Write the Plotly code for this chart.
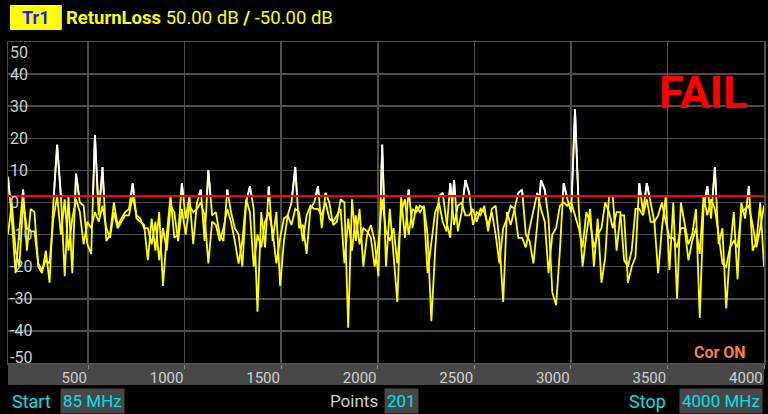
import numpy as np
import plotly.graph_objects as go

# ---- data ----
start_mhz = 85
stop_mhz = 4000
points = 201
limit_db = 2.0
y_tick_vals = [50, 40, 30, 20, 10, 0, -10, -20, -30, -40, -50]
y_tick_text = ["50", "40", "30", "20", "10", "0", "-10", "-20", "-30", "-40", "-50"]
x_tick_vals = [500, 1000, 1500, 2000, 2500, 3000, 3500, 4000]
x_tick_text = ["500", "1000", "1500", "2000", "2500", "3000", "3500", "4000"]

trace_a = [
    8, -5, -22, -8, 4, -15, -2, -3, -20, -22,
    -15, -25, 0, 18, 2, -23, 2, -22, 9, 0,
    -1, -13, -16, 21, -4, 11, -12, -10, 0, -7,
    -5, -3, -2, 6, -5, -6, -7, -18, -5, -15,
    -3, -26, -10, 2, -11, -10, 6, -5, 2, -13,
    0, 4, -12, 10, -4, -3, -10, -12, 4, -3,
    -8, -10, -20, 0, 5, -2, -34, -3, -14, 5,
    -12, -3, -26, -12, -4, 0, 11, -8, -7, -16,
    -2, 0, 5, -8, 3, 0, -7, -6, 1, 0,
    -39, 1, -12, -2, -20, -10, -7, -12, -23, 18,
    -20, -2, -18, -31, 2, -11, 4, -8, -1, -3,
    -1, -10, -37, -15, 2, 3, -6, -11, 7, -9,
    -3, 7, 3, -7, -3, -4, -1, -9, -2, -1,
    -12, -31, -3, -7, -2, 3, 4, -10, -12, -19,
    -7, 7, 4, -5, -28, -32, -15, 6, 1, -3,
    29, -2, -20, -10, -2, -20, -5, -25, -17, 2,
    2, -15, -4, -4, -25, -20, -17, 6, -3, 6,
    0, -6, -22, -8, 2, -21, 0, -30, 0, -7,
    -13, -10, -2, -36, -2, 5, -5, 11, -13, -8,
    -33, -15, -3, -24, 0, -5, 5, -15, -12, 0,
    -20,
]

trace_b = [
    -10, 0, -15, -20, 0, -8, -9, -9, -19, -21,
    -18, -19, -5, 2, -10, 1, -15, -5, 1, -3,
    -13, -6, -8, -3, -6, -1, -8, -11, -3, -8,
    -6, -4, -4, 2, -4, -5, -8, -8, -13, -6,
    -18, -8, -15, -1, -3, -12, -2, -10, -1, -3,
    -2, 0, -4, -19, -6, -7, -12, -8, -2, -6,
    -12, -19, -12, 1, -3, -20, -10, -14, -6, -3,
    -9, -19, -11, -5, -4, -7, -2, -3, -12, -4,
    -1, -2, -2, -4, 0, -5, -6, -4, -2, -19,
    -5, -15, -4, -13, -8, -9, -11, -20, -13, 1,
    -9, -12, -8, -19, -3, 1, -10, -2, -3, -1,
    -2, -22, -12, -3, 0, -6, -9, 6, -7, -1,
    0, -4, -4, -2, -6, -2, -3, -7, -3, -10,
    -19, -8, -5, -1, -2, -11, -11, -14, -8, -2,
    3, -2, -6, -22, -10, -8, -1, 0, -1, 0,
    -4, -8, -14, -3, -6, -14, -10, -8, 0, -3,
    -8, -3, -3, -18, -20, -15, -2, -2, -4, 1,
    -6, -6, -4, 0, -6, -11, -11, -14, -8, -8,
    -18, -12, -8, -16, 2, -4, 1, -2, -10, -19,
    -20, -14, -12, -14, -3, -2, -1, -7, -14, -8,
    -1,
]

freq = np.linspace(start_mhz, stop_mhz, points)


def above_limit(x, y, lim):
    """Return the parts of a polyline lying above lim (crossings interpolated)."""
    xs, ys = [], []
    y = np.asarray(y, dtype=float)
    for i in range(len(x) - 1):
        x0, x1, y0, y1 = x[i], x[i + 1], y[i], y[i + 1]
        a0, a1 = y0 > lim, y1 > lim
        if a0 and a1:
            xs += [x0, x1]; ys += [y0, y1]
        elif a0 or a1:
            xc = x0 + (lim - y0) * (x1 - x0) / (y1 - y0)
            if a0:
                xs += [x0, xc]; ys += [y0, lim]
            else:
                xs += [xc, x1]; ys += [lim, y1]
        xs.append(None); ys.append(None)
    return xs, ys


fig = go.Figure()
for tr in (trace_b, trace_a):
    fig.add_trace(go.Scatter(x=freq, y=tr, mode="lines",
                             line=dict(color="#ffff00", width=1.8),
                             hoverinfo="skip", showlegend=False))
for tr in (trace_b, trace_a):
    wx, wy = above_limit(freq, tr, limit_db)
    fig.add_trace(go.Scatter(x=wx, y=wy, mode="lines",
                             line=dict(color="#ffffff", width=1.8),
                             hoverinfo="skip", showlegend=False))
fig.add_trace(go.Scatter(x=[start_mhz, stop_mhz], y=[limit_db, limit_db], mode="lines",
                         line=dict(color="#ff0000", width=2),
                         hoverinfo="skip", showlegend=False))

W, H = 768, 414
L, R, T, B = 8, 2, 42, 51
pw, ph = W - L - R, H - T - B


def px(xp):
    return (xp - L) / pw


def py(yp):
    return (H - B - yp) / ph


grid = "#4e4e4e"
fig.update_xaxes(range=[start_mhz, stop_mhz], tickvals=x_tick_vals, ticktext=x_tick_text,
                 showgrid=True, gridcolor=grid, gridwidth=1.5,
                 ticks="outside", ticklen=4, tickcolor="#8a8a8a", tickwidth=1,
                 ticklabelposition="outside left",
                 tickfont=dict(family="Roboto", size=15, color="#cfcfcf"),
                 showline=True, linecolor=grid, linewidth=1.5, mirror=True,
                 zeroline=False, fixedrange=True)
fig.update_yaxes(range=[-50, 50], tickvals=y_tick_vals[1:-1],
                 showticklabels=False, showgrid=True, gridcolor=grid, gridwidth=1.5,
                 zeroline=False, showline=True, linecolor=grid, linewidth=1.5, mirror=True,
                 fixedrange=True)

shapes = [
    # grey scale band under the plot
    dict(type="rect", xref="paper", yref="paper", x0=0, x1=1, y0=py(385), y1=0,
         fillcolor="#474747", line=dict(width=0), layer="below"),
    # Tr1 yellow box
    dict(type="rect", xref="paper", yref="paper", x0=px(10), x1=px(62), y0=py(30), y1=py(5),
         fillcolor="#ffff00", line=dict(width=0)),
]

ann = []
for v, t in zip(y_tick_vals, y_tick_text):
    shift = -10 if v == 50 else (6 if v == -50 else 0)
    ann.append(dict(x=0, y=v, xref="paper", yref="y", text=t, showarrow=False,
                    xanchor="left", yanchor="middle", yshift=shift, xshift=0,
                    font=dict(family="Roboto", size=16, color="#cfcfcf")))

ann += [
    dict(x=px(36), y=py(18), xref="paper", yref="paper", text="<b>Tr1</b>", showarrow=False,
         xanchor="center", yanchor="middle",
         font=dict(family="Roboto", size=18, color="#1e1eff")),
    dict(x=px(64), y=py(18), xref="paper", yref="paper",
         text="<b>ReturnLoss</b> 50.00 dB <b>/</b> -50.00 dB", showarrow=False,
         xanchor="left", yanchor="middle",
         font=dict(family="Roboto", size=18.5, color="#ffff00")),
    dict(x=px(705), y=py(92), xref="paper", yref="paper", text="<b>FAIL</b>", showarrow=False,
         xanchor="center", yanchor="middle",
         font=dict(family="Roboto", size=45, color="#ff0000")),
    dict(x=px(750), y=py(352), xref="paper", yref="paper", text="<b>Cor ON</b>", showarrow=False,
         xanchor="right", yanchor="middle",
         font=dict(family="Roboto", size=16, color="#ff7f3a")),
    dict(x=px(10), y=py(401), xref="paper", yref="paper", text="Start", showarrow=False,
         xanchor="left", yanchor="middle",
         font=dict(family="Roboto", size=18, color="#00e0e8")),
    dict(x=px(60), y=py(401), xref="paper", yref="paper", text="85 MHz", showarrow=False,
         xanchor="left", yanchor="middle", bgcolor="#474747", borderpad=2,
         font=dict(family="Roboto", size=17, color="#00e0e8")),
    dict(x=px(381), y=py(401), xref="paper", yref="paper", text="Points", showarrow=False,
         xanchor="right", yanchor="middle",
         font=dict(family="Roboto", size=17, color="#d0d0d0")),
    dict(x=px(385), y=py(401), xref="paper", yref="paper", text=str(points), showarrow=False,
         xanchor="left", yanchor="middle", bgcolor="#474747", borderpad=2,
         font=dict(family="Roboto", size=17, color="#00e0e8")),
    dict(x=px(670), y=py(401), xref="paper", yref="paper", text="Stop", showarrow=False,
         xanchor="right", yanchor="middle",
         font=dict(family="Roboto", size=18, color="#00e0e8")),
    dict(x=px(765), y=py(401), xref="paper", yref="paper", text="4000 MHz", showarrow=False,
         xanchor="right", yanchor="middle", bgcolor="#474747", borderpad=2,
         font=dict(family="Roboto", size=17, color="#00e0e8")),
]

fig.update_layout(width=W, height=H, margin=dict(l=L, r=R, t=T, b=B, pad=0),
                  paper_bgcolor="#000000", plot_bgcolor="#000000",
                  shapes=shapes, annotations=ann, showlegend=False)

fig.write_html("out.html", config={"displayModeBar": False, "staticPlot": True},
               post_script="document.body.style.margin='0';"
                           "document.body.style.padding='0';"
                           "document.body.style.overflow='hidden';"
                           "document.body.style.background='#000';")
